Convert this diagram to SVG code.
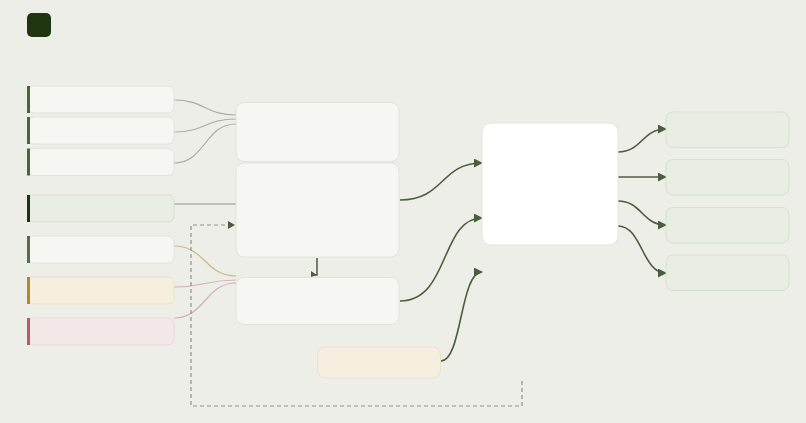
<svg xmlns="http://www.w3.org/2000/svg" width="806" height="423" viewBox="0 0 806 423">
<defs>
<style>
.bg{fill:#eeeee8}
.card{fill:#f6f7f2;stroke:#e2e3dc;stroke-width:1}
.green{fill:#e8eee3;stroke:#d6dfd0;stroke-width:1}
.cream{fill:#f6efdf;stroke:#ebe1c6;stroke-width:1}
.pink{fill:#f5e8e8;stroke:#ead6d8;stroke-width:1}
.white{fill:#ffffff;stroke:#e6e6df;stroke-width:1}
.flow{fill:none;stroke:#4a5e3e;stroke-width:1.6}
.thin{fill:none;stroke-width:1.2}
.dash{fill:none;stroke:#8f9288;stroke-width:1.2;stroke-dasharray:4 3}
</style>
<marker id="arrS" viewBox="0 0 10 10" refX="9" refY="5" markerWidth="9" markerHeight="9" orient="auto" markerUnits="userSpaceOnUse">
<path d="M0,0 L10,5 L0,10 z" fill="#4a5e3e"/>
</marker>
</defs>
<rect class="bg" x="0" y="0" width="806" height="423"/>
<g id="logo"><rect x="27" y="13" width="24" height="24" rx="5" fill="#1e3510"/></g>

<g id="connectors">
<path class="thin" stroke="#abaca3" d="M174,100 C205,100 205,115 236,115"/>
<path class="thin" stroke="#abaca3" d="M174,132 C205,132 205,119 236,119"/>
<path class="thin" stroke="#abaca3" d="M174,163 C205,163 205,124 236,124"/>
<path class="thin" stroke="#8f9288" d="M174,204 L236,204"/>
<path class="thin" stroke="#c9b98a" d="M174,246 C205,246 205,276 236,276"/>
<path class="thin" stroke="#d4aeb4" d="M174,287 C205,287 205,280 236,280"/>
<path class="thin" stroke="#d4aeb4" d="M174,318 C205,318 205,283 236,283"/>
<path class="dash" d="M522,381 V406 H191 V225 H229"/>
<path d="M228,221 L235,225 L228,229 z" fill="#4a5e3e"/>
<path fill="none" stroke="#4a5e3e" stroke-width="1.5" d="M317,258 V275 H313"/>
<path d="M311,271 L317,275 L311,277 z" fill="#4a5e3e"/>
<path class="flow" marker-end="url(#arrS)" d="M400,200 C445,200 440,163 482,163"/>
<path class="flow" marker-end="url(#arrS)" d="M400,301 C450,301 440,218 482,218"/>
<path class="flow" marker-end="url(#arrS)" d="M441,361 C462,361 460,272 482,272"/>
<path class="flow" marker-end="url(#arrS)" d="M618,152 C642,152 642,129 666,129"/>
<path class="flow" marker-end="url(#arrS)" d="M618,177 L666,177"/>
<path class="flow" marker-end="url(#arrS)" d="M618,201 C642,201 642,225 666,225"/>
<path class="flow" marker-end="url(#arrS)" d="M618,226 C642,226 642,273 666,273"/>
</g>

<g id="in1"><rect class="card" x="28" y="86" width="146" height="27" rx="6"/><rect x="27" y="86" width="3" height="27" fill="#4f6344"/></g>
<g id="in2"><rect class="card" x="28" y="117" width="146" height="27" rx="6"/><rect x="27" y="117" width="3" height="27" fill="#4f6344"/></g>
<g id="in3"><rect class="card" x="28" y="148.5" width="146" height="27" rx="6"/><rect x="27" y="148.5" width="3" height="27" fill="#4f6344"/></g>
<g id="in4"><rect class="green" x="28" y="195" width="146" height="27" rx="6"/><rect x="27" y="195" width="3" height="27" fill="#1e3510"/></g>
<g id="in5"><rect class="card" x="28" y="236" width="146" height="27" rx="6"/><rect x="27" y="236" width="3" height="27" fill="#5a6b4e"/></g>
<g id="in6"><rect class="cream" x="28" y="277" width="146" height="27" rx="6"/><rect x="27" y="277" width="3" height="27" fill="#b08a2a"/></g>
<g id="in7"><rect class="pink" x="28" y="318" width="146" height="27" rx="6"/><rect x="27" y="318" width="3" height="27" fill="#b85a6a"/></g>

<g id="mid1"><rect class="card" x="236" y="102.5" width="163" height="59" rx="8"/></g>
<g id="mid2"><rect class="card" x="236" y="163" width="163" height="94" rx="8"/></g>
<g id="mid3"><rect class="card" x="236" y="277.5" width="163" height="47" rx="8"/></g>
<g id="extra"><rect class="cream" x="317.5" y="347" width="123" height="31" rx="8"/></g>

<g id="core"><rect class="white" x="482" y="123" width="136" height="122" rx="9"/></g>

<g id="out1"><rect class="green" x="666" y="112" width="123" height="35.5" rx="7"/></g>
<g id="out2"><rect class="green" x="666" y="159.5" width="123" height="35.5" rx="7"/></g>
<g id="out3"><rect class="green" x="666" y="207.5" width="123" height="35.5" rx="7"/></g>
<g id="out4"><rect class="green" x="666" y="255" width="123" height="35.5" rx="7"/></g>
</svg>
